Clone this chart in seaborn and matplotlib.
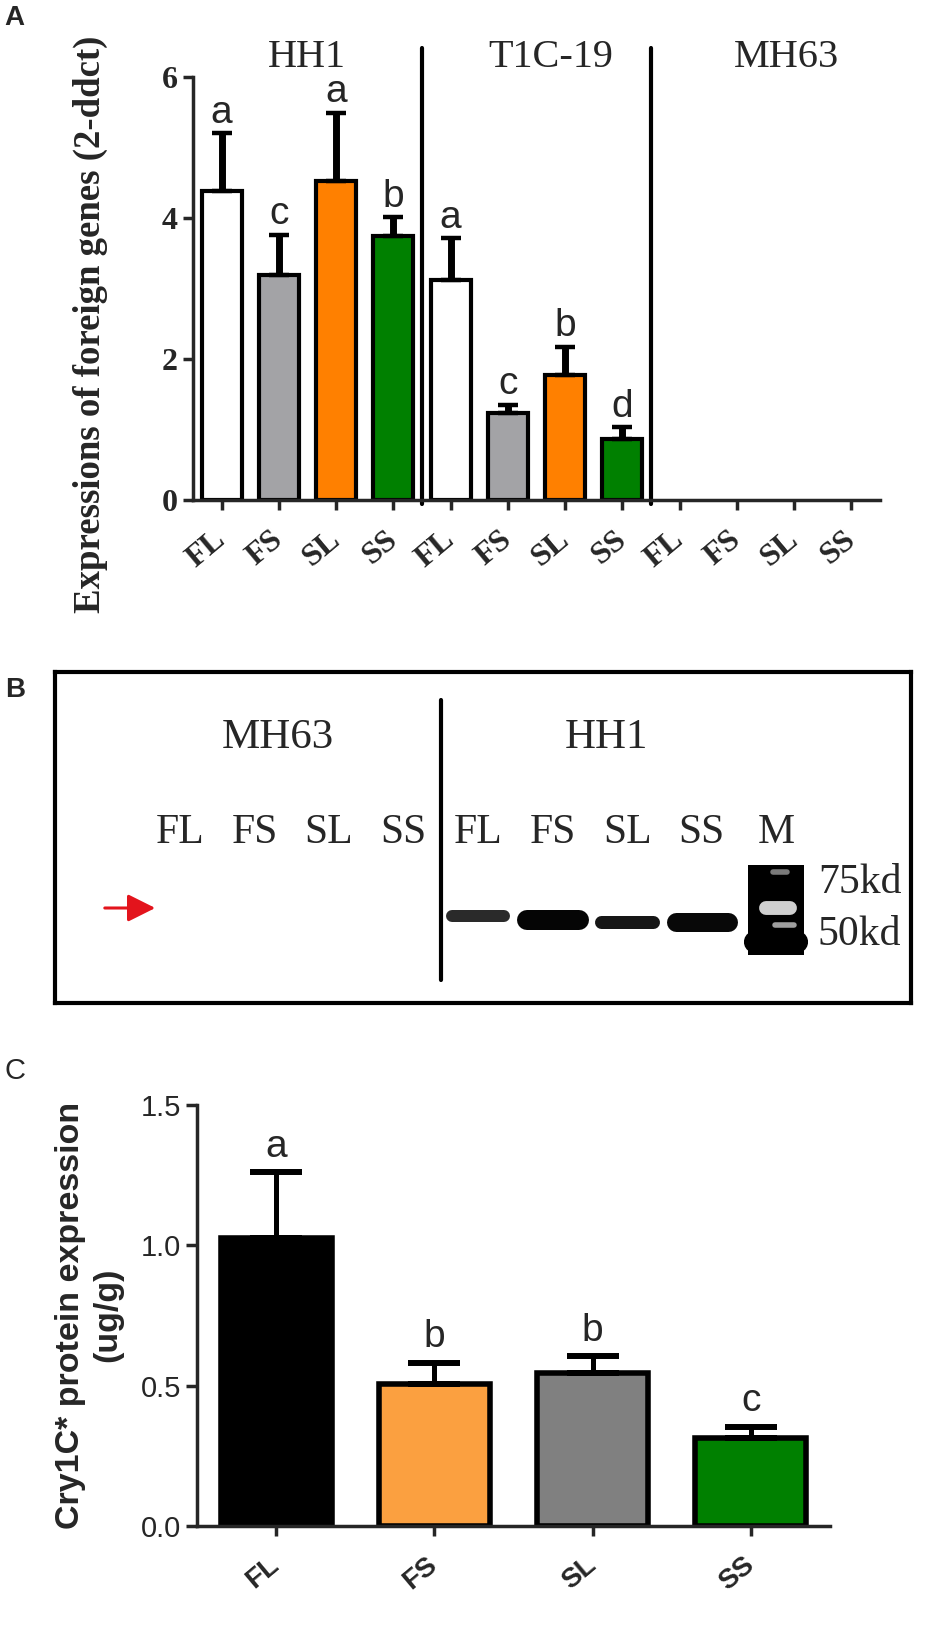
import numpy as np
import pandas as pd
import matplotlib.pyplot as plt
import seaborn as sns

# ---------------- data ----------------
# panel A: relative expression of foreign genes (2-ddct)
lines_a = ['HH1', 'T1C-19', 'MH63']
tissues = ['FL', 'FS', 'SL', 'SS']
expr_hh1 = [4.38, 3.19, 4.52, 3.74]
err_hh1 = [0.82, 0.57, 0.97, 0.27]
expr_t1c = [3.12, 1.24, 1.78, 0.87]
err_t1c = [0.59, 0.11, 0.39, 0.16]
expr_mh63 = [0.0, 0.0, 0.0, 0.0]
err_mh63 = [0.0, 0.0, 0.0, 0.0]
letters_a = ['a', 'c', 'a', 'b', 'a', 'c', 'b', 'd', '', '', '', '']
colors_a = ['#ffffff', '#a3a3a6', '#ff8000', '#008000']

# panel B: western blot lanes
blot_groups = ['MH63', 'HH1']
blot_lanes = ['FL', 'FS', 'SL', 'SS', 'FL', 'FS', 'SL', 'SS', 'M']
band_level = [0, 0, 0, 0, 0.263, 0.251, 0.245, 0.245]   # 0 = no band
band_thick = [0, 0, 0, 0, 12, 20, 13, 19]
band_color = ['k', 'k', 'k', 'k', '#2a2a2a', '#050505', '#161616', '#080808']
marker_kd = ['75kd', '50kd']
marker_kd_level = [0.363, 0.205]

# panel C: Cry1C* protein content
protein = [1.025, 0.506, 0.545, 0.313]
protein_err = [0.235, 0.076, 0.060, 0.040]
letters_c = ['a', 'b', 'b', 'c']
colors_c = ['#000000', '#fba040', '#808080', '#008000']

sns.set_style('ticks')
plt.rcParams['font.family'] = ['Liberation Sans', 'DejaVu Sans']
SERIF = ['Liberation Serif', 'DejaVu Serif']
SANS = ['Liberation Sans', 'DejaVu Sans']

W, H = 926, 1638
fig = plt.figure(figsize=(W / 100, H / 100), dpi=100)


def box(l, t, r, b):
    return [l / W, 1 - b / H, (r - l) / W, (b - t) / H]


# ---------------- panel A ----------------
ax = fig.add_axes(box(193, 77, 880, 500))
df_a = pd.DataFrame({
    'line': np.repeat(lines_a, 4),
    'tissue': tissues * 3,
    'expr': expr_hh1 + expr_t1c + expr_mh63,
    'err': err_hh1 + err_t1c + err_mh63,
})
df_a['slot'] = df_a['line'] + '_' + df_a['tissue']
sns.barplot(data=df_a, x='slot', y='expr', hue='tissue',
            palette=dict(zip(tissues, colors_a)), dodge=False, width=0.7,
            saturation=1, edgecolor='black', linewidth=3, errorbar=None,
            legend=False, ax=ax)
for p in ax.patches:
    if p.get_height() == 0:
        p.set_linewidth(0)

has_err = df_a['err'] > 0
xs = np.arange(len(df_a))[has_err]
ax.errorbar(xs, df_a['expr'][has_err],
            yerr=[np.zeros(has_err.sum()), df_a['err'][has_err]],
            fmt='none', ecolor='black', elinewidth=5, capsize=7, capthick=3.2, zorder=1)
for i, (v, e, t) in enumerate(zip(df_a['expr'], df_a['err'], letters_a)):
    if t:
        ax.text(i, v + e + 0.15, t, ha='center', va='baseline',
                fontsize=28, family=SANS)

ax.set_xlim(-0.5, 11.5)
ax.set_ylim(0, 6)
ax.set_yticks([0, 2, 4, 6])
ax.set_yticklabels(['0', '2', '4', '6'], fontsize=23, fontweight='bold', family=SERIF)
ax.set_xticks(range(12))
ax.set_xticklabels(tissues * 3, fontsize=23, fontweight='bold', family=SERIF,
                   rotation=40, ha='right', va='center', rotation_mode='anchor')
ax.tick_params(axis='x', length=7, width=2.5, pad=19)
ax.tick_params(axis='y', length=7, width=2.5, pad=4)
sns.despine(ax=ax)
for s in ['left', 'bottom']:
    ax.spines[s].set_linewidth(2.5)
ax.set_xlabel('')
ax.set_ylabel('Expressions of foreign genes (2-ddct)', fontsize=26.5,
              fontweight='bold', family=SERIF)
ax.yaxis.set_label_coords(-0.123, 0.416)

for xd in [3.5, 7.5]:
    ax.plot([xd, xd], [-0.06, 6.41], color='black', lw=3, clip_on=False)
for lab, xg in zip(lines_a, [1.49, 5.75, 9.86]):
    ax.text(xg, 6.28, lab, ha='center', va='center', fontsize=29, family=SERIF)

fig.text(4 / W, 1 - 5 / H, 'A', ha='left', va='top', fontsize=20,
         fontweight='bold', family=SANS)

# ---------------- panel B ----------------
axb = fig.add_axes(box(55, 672, 911, 1003))
axb.set_xlim(-1.678, 9.81)
axb.set_ylim(0, 1)
axb.set_xticks([])
axb.set_yticks([])
for s in axb.spines.values():
    s.set_visible(True)
    s.set_linewidth(3)
    s.set_color('black')

for i, lab in enumerate(blot_lanes):
    axb.text(i, 0.514, lab, ha='center', va='center', fontsize=30, family=SERIF)
for lab, xg in zip(blot_groups, [1.315, 5.72]):
    axb.text(xg, 0.80, lab, ha='center', va='center', fontsize=31, family=SERIF)
axb.plot([3.5, 3.5], [0.07, 0.915], color='black', lw=3)

for i, (lv, th, c) in enumerate(zip(band_level, band_thick, band_color)):
    if th > 0:
        axb.plot([i - 0.35, i + 0.35], [lv, lv], color=c, lw=th * 0.72,
                 solid_capstyle='round')

# marker lane: dark smear with lighter streaks
axb.bar(8, 0.272, bottom=0.145, width=0.76, color='black', linewidth=0)
axb.plot([7.72, 8.28], [0.185, 0.185], color='black', lw=16, solid_capstyle='round')
axb.plot([7.86, 8.18], [0.286, 0.286], color='#cfcfcf', lw=10, solid_capstyle='round')
axb.plot([7.98, 8.24], [0.236, 0.236], color='#9e9e9e', lw=4, solid_capstyle='round')
axb.plot([7.96, 8.14], [0.397, 0.397], color='#7a7a7a', lw=4, solid_capstyle='round')
for lab, lv in zip(marker_kd, marker_kd_level):
    axb.text(8.56, lv, lab, ha='left', va='center', fontsize=30, family=SERIF)

axb.annotate('', xy=(-0.295, 0.287), xytext=(-1.047, 0.287),
             arrowprops=dict(arrowstyle='-|>,head_length=0.6,head_width=0.3',
                             color='#e3141c', lw=2.2, mutation_scale=28))

fig.text(5 / W, 1 - 677 / H, 'B', ha='left', va='top', fontsize=20,
         fontweight='bold', family=SANS)

# ---------------- panel C ----------------
axc = fig.add_axes(box(197, 1105, 830, 1526))
sns.barplot(x=tissues, y=protein, hue=tissues, palette=colors_c, width=0.7,
            saturation=1, edgecolor='black', linewidth=4, errorbar=None,
            legend=False, ax=axc)
axc.errorbar(range(4), protein, yerr=[np.zeros(4), protein_err], fmt='none',
             ecolor='black', elinewidth=3.6, capsize=18.5, capthick=4.3, zorder=1)
for i, (v, e, t) in enumerate(zip(protein, protein_err, letters_c)):
    axc.text(i, v + e + 0.055, t, ha='center', va='baseline', fontsize=28, family=SANS)

axc.set_xlim(-0.5, 3.5)
axc.set_ylim(0, 1.5)
axc.set_yticks([0, 0.5, 1.0, 1.5])
axc.set_yticklabels(['0.0', '0.5', '1.0', '1.5'], fontsize=21, family=SANS)
axc.set_xticks(range(4))
axc.set_xticklabels(tissues, fontsize=20, fontweight='bold', family=SANS,
                    rotation=40, ha='right', va='center', rotation_mode='anchor')
axc.tick_params(axis='x', length=7, width=2.5, pad=19)
axc.tick_params(axis='y', length=8, width=2.5, pad=3.5)
sns.despine(ax=axc)
for s in ['left', 'bottom']:
    axc.spines[s].set_linewidth(2.5)
axc.set_ylabel('Cry1C* protein expression\n(ug/g)', fontsize=24.5,
               fontweight='bold', family=SANS, linespacing=1.25)
axc.yaxis.set_label_coords(-0.117, 0.501)

fig.text(5 / W, 1 - 1057 / H, 'C', ha='left', va='top', fontsize=21, family=SANS)

fig.savefig('out.png', dpi=100)
